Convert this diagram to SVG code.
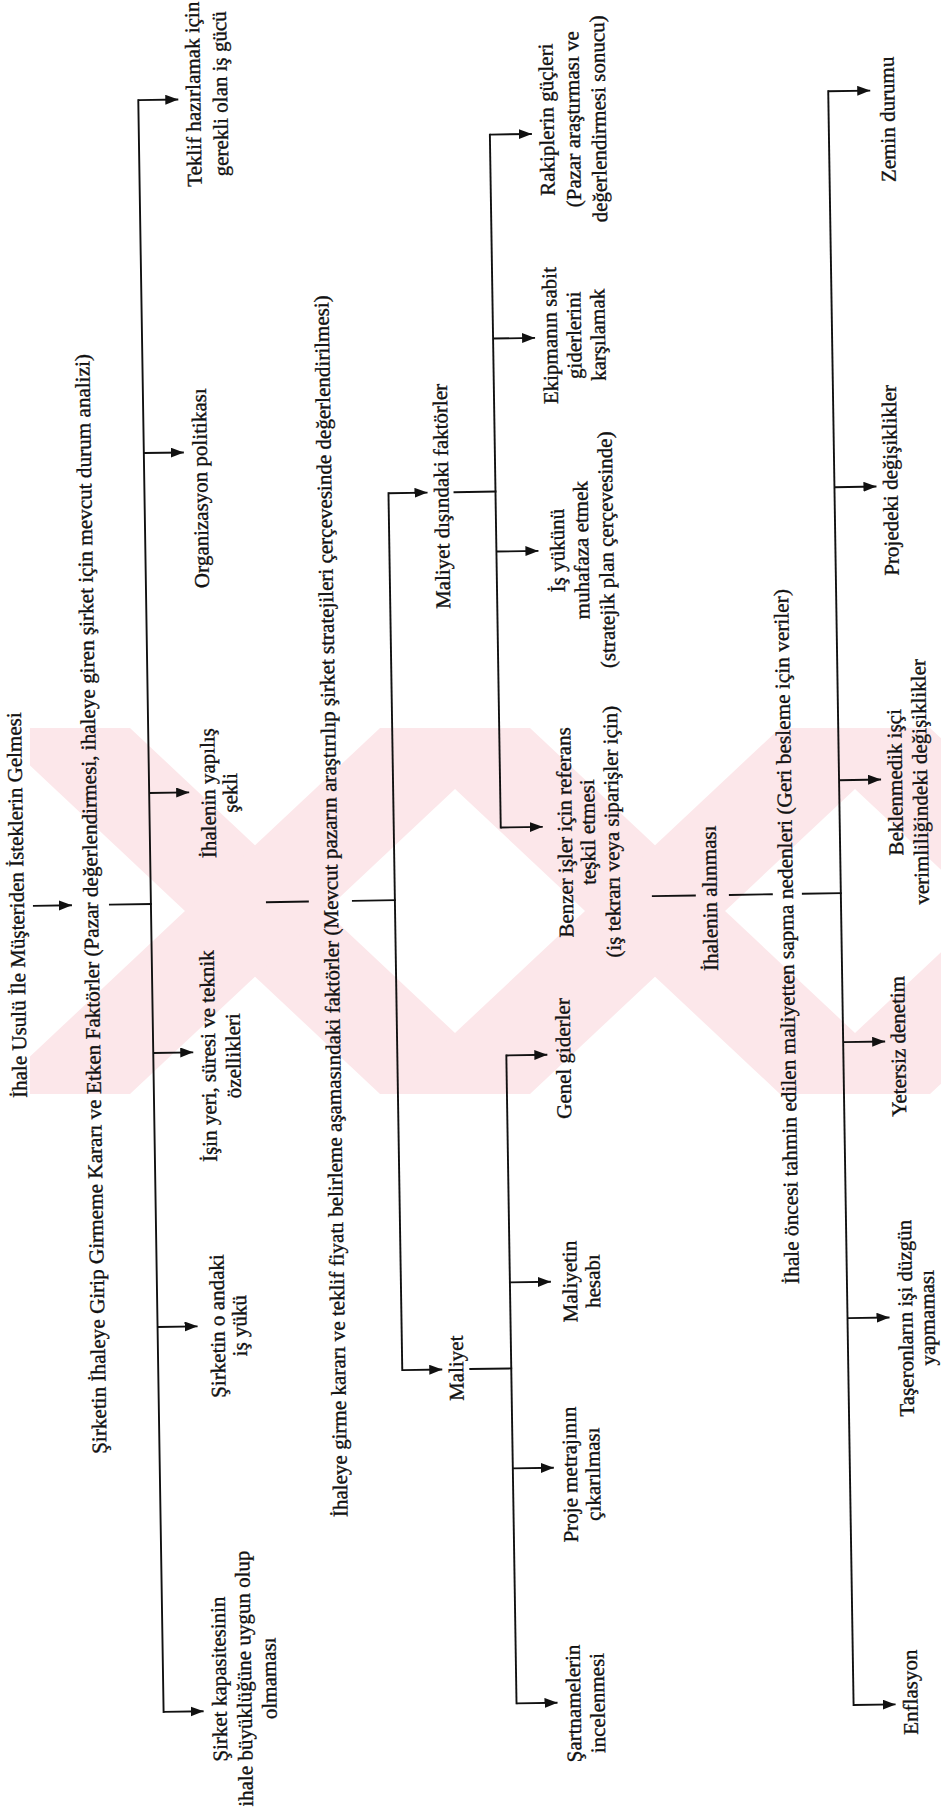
<svg xmlns="http://www.w3.org/2000/svg" width="941" height="1814" viewBox="0 0 941 1814">
<style>
.t{font-family:"Liberation Serif","Times New Roman",serif;font-size:21px;fill:#111;stroke:#111;stroke-width:0.35;dominant-baseline:central;text-anchor:middle}
.c{stroke:#111;stroke-width:1.9;fill:none;stroke-linecap:square}
.a{stroke:#111;stroke-width:1.9;fill:none;marker-end:url(#ah)}
.wm{fill:#fce7ea}
</style>
<defs>
<marker id="ah" markerUnits="userSpaceOnUse" markerWidth="14" markerHeight="11" refX="13" refY="5" orient="auto"><path d="M0,0 L13,5 L0,10 z" fill="#111"/></marker>
<clipPath id="band"><rect x="30" y="728" width="911" height="366"/></clipPath>
</defs>
<rect width="941" height="1814" fill="#fff"/>
<g id="watermark" clip-path="url(#band)">
<polygon class="wm" points="-10,728 130,728 520,1094 380,1094"/>
<polygon class="wm" points="380,728 520,728 130,1094 -10,1094"/>
<polygon class="wm" points="390,728 530,728 920,1094 780,1094"/>
<polygon class="wm" points="780,728 920,728 530,1094 390,1094"/>
<polygon class="wm" points="790,728 930,728 1320,1094 1180,1094"/>
<polygon class="wm" points="1180,728 1320,728 930,1094 790,1094"/>
</g>
<g transform="rotate(-0.9 470 907)">
<g id="connectors">
<line class="a" x1="33" y1="899" x2="72" y2="899"/>
<line class="c" x1="110" y1="899" x2="151" y2="899"/>
<line class="c" x1="151" y1="95" x2="151" y2="1707"/>
<line class="a" x1="151" y1="95" x2="191" y2="95"/>
<line class="a" x1="151" y1="448" x2="191" y2="448"/>
<line class="a" x1="151" y1="788" x2="191" y2="788"/>
<line class="a" x1="151" y1="1048" x2="191" y2="1048"/>
<line class="a" x1="151" y1="1322" x2="191" y2="1322"/>
<line class="a" x1="151" y1="1707" x2="191" y2="1707"/>
<line class="c" x1="267" y1="899" x2="308" y2="899"/>
<line class="c" x1="353" y1="899" x2="395" y2="899"/>
<line class="c" x1="395" y1="492" x2="395" y2="1369"/>
<line class="a" x1="395" y1="492" x2="434" y2="492"/>
<line class="a" x1="395" y1="1369" x2="435" y2="1369"/>
<line class="c" x1="461" y1="492" x2="502" y2="492"/>
<line class="c" x1="502" y1="135" x2="502" y2="828"/>
<line class="a" x1="502" y1="135" x2="544" y2="135"/>
<line class="a" x1="502" y1="339" x2="544" y2="339"/>
<line class="a" x1="502" y1="552" x2="544" y2="552"/>
<line class="a" x1="502" y1="828" x2="544" y2="828"/>
<line class="c" x1="463" y1="1369" x2="504" y2="1369"/>
<line class="c" x1="504" y1="1056" x2="504" y2="1704"/>
<line class="a" x1="504" y1="1056" x2="545" y2="1056"/>
<line class="a" x1="504" y1="1283" x2="545" y2="1283"/>
<line class="a" x1="504" y1="1469" x2="545" y2="1469"/>
<line class="a" x1="504" y1="1704" x2="545" y2="1704"/>
<line class="c" x1="653" y1="899" x2="695" y2="899"/>
<line class="c" x1="730" y1="899" x2="772" y2="899"/>
<line class="c" x1="803" y1="899" x2="841" y2="899"/>
<line class="c" x1="841" y1="97" x2="841" y2="1711"/>
<line class="a" x1="841" y1="97" x2="883" y2="97"/>
<line class="a" x1="841" y1="493" x2="883" y2="493"/>
<line class="a" x1="841" y1="786" x2="883" y2="786"/>
<line class="a" x1="841" y1="1048" x2="883" y2="1048"/>
<line class="a" x1="841" y1="1324" x2="883" y2="1324"/>
<line class="a" x1="841" y1="1711" x2="883" y2="1711"/>
</g>
<g id="n_t1" transform="translate(17 898) rotate(-90)"><text class="t" x="0" y="0">İhale Usulü İle Müşteriden İsteklerin Gelmesi</text></g>
<g id="n_t2" transform="translate(91 898) rotate(-90)"><text class="t" x="0" y="0" textLength="1100" lengthAdjust="spacingAndGlyphs">Şirketin İhaleye Girip Girmeme Kararı ve Etken Faktörler (Pazar değerlendirmesi, ihaleye giren şirket için mevcut durum analizi)</text></g>
<g id="n_teklif" transform="translate(206 90) rotate(-90)"><text class="t" x="0" y="0">Teklif hazırlamak için</text><text class="t" x="0" y="27">gerekli olan iş gücü</text></g>
<g id="n_org" transform="translate(207 484) rotate(-90)"><text class="t" x="0" y="0">Organizasyon politikası</text></g>
<g id="n_yapilis" transform="translate(210 789) rotate(-90)"><text class="t" x="0" y="0">İhalenin yapılış</text><text class="t" x="0" y="22">şekli</text></g>
<g id="n_isin" transform="translate(206 1052) rotate(-90)"><text class="t" x="0" y="0">İşin yeri, süresi ve teknik</text><text class="t" x="0" y="25">özellikleri</text></g>
<g id="n_isyuku" transform="translate(211 1322) rotate(-90)"><text class="t" x="0" y="0">Şirketin o andaki</text><text class="t" x="0" y="22">iş yükü</text></g>
<g id="n_kapasite" transform="translate(207 1675) rotate(-90)"><text class="t" x="0" y="0">Şirket kapasitesinin</text><text class="t" x="0" y="25">ihale büyüklüğüne uygun olup</text><text class="t" x="0" y="50">olmaması</text></g>
<g id="n_t3" transform="translate(331 904) rotate(-90)"><text class="t" x="0" y="0" textLength="1222" lengthAdjust="spacingAndGlyphs">İhaleye girme kararı ve teklif fiyatı belirleme aşamasındaki faktörler (Mevcut pazarın araştırılıp şirket stratejileri çerçevesinde değerlendirilmesi)</text></g>
<g id="n_mdf" transform="translate(448 496) rotate(-90)"><text class="t" x="0" y="0">Maliyet dışındaki faktörler</text></g>
<g id="n_rakip" transform="translate(559 121) rotate(-90)"><text class="t" x="0" y="0">Rakiplerin güçleri</text><text class="t" x="0" y="26">(Pazar araştırması ve</text><text class="t" x="0" y="52">değerlendirmesi sonucu)</text></g>
<g id="n_ekip" transform="translate(559 337) rotate(-90)"><text class="t" x="0" y="0">Ekipmanın sabit</text><text class="t" x="0" y="24">giderlerini</text><text class="t" x="0" y="48">karşılamak</text></g>
<g id="n_isyukunu" transform="translate(563 552) rotate(-90)"><text class="t" x="0" y="0">İş yükünü</text><text class="t" x="0" y="24">muhafaza etmek</text><text class="t" x="0" y="49">(stratejik plan çerçevesinde)</text></g>
<g id="n_benzer" transform="translate(566 834) rotate(-90)"><text class="t" x="0" y="0">Benzer işler için referans</text><text class="t" x="0" y="23">teşkil etmesi</text><text class="t" x="0" y="47">(iş tekrarı veya siparişler için)</text></g>
<g id="n_maliyet" transform="translate(449 1368) rotate(-90)"><text class="t" x="0" y="0">Maliyet</text></g>
<g id="n_genel" transform="translate(561 1060) rotate(-90)"><text class="t" x="0" y="0">Genel giderler</text></g>
<g id="n_hesap" transform="translate(564 1283) rotate(-90)"><text class="t" x="0" y="0">Maliyetin</text><text class="t" x="0" y="23">hesabı</text></g>
<g id="n_metraj" transform="translate(561 1476) rotate(-90)"><text class="t" x="0" y="0">Proje metrajının</text><text class="t" x="0" y="23">çıkarılması</text></g>
<g id="n_sartname" transform="translate(561 1705) rotate(-90)"><text class="t" x="0" y="0">Şartnamelerin</text><text class="t" x="0" y="24">incelenmesi</text></g>
<g id="n_alinma" transform="translate(710 902) rotate(-90)"><text class="t" x="0" y="0">İhalenin alınması</text></g>
<g id="n_t4" transform="translate(786 941.5) rotate(-90)"><text class="t" x="0" y="0" textLength="695" lengthAdjust="spacingAndGlyphs">İhale öncesi tahmin edilen maliyetten sapma nedenleri (Geri besleme için veriler)</text></g>
<g id="n_zemin" transform="translate(900 126) rotate(-90)"><text class="t" x="0" y="0">Zemin durumu</text></g>
<g id="n_proje" transform="translate(897 487) rotate(-90)"><text class="t" x="0" y="0">Projedeki değişiklikler</text></g>
<g id="n_beklenmedik" transform="translate(897 789) rotate(-90)"><text class="t" x="0" y="0">Beklenmedik işçi</text><text class="t" x="0" y="25">verimliliğindeki değişiklikler</text></g>
<g id="n_yetersiz" transform="translate(896 1053) rotate(-90)"><text class="t" x="0" y="0">Yetersiz denetim</text></g>
<g id="n_taseron" transform="translate(899 1325) rotate(-90)"><text class="t" x="0" y="0">Taşeronların işi düzgün</text><text class="t" x="0" y="22">yapmaması</text></g>
<g id="n_enflasyon" transform="translate(898 1699) rotate(-90)"><text class="t" x="0" y="0">Enflasyon</text></g>
</g>
</svg>
